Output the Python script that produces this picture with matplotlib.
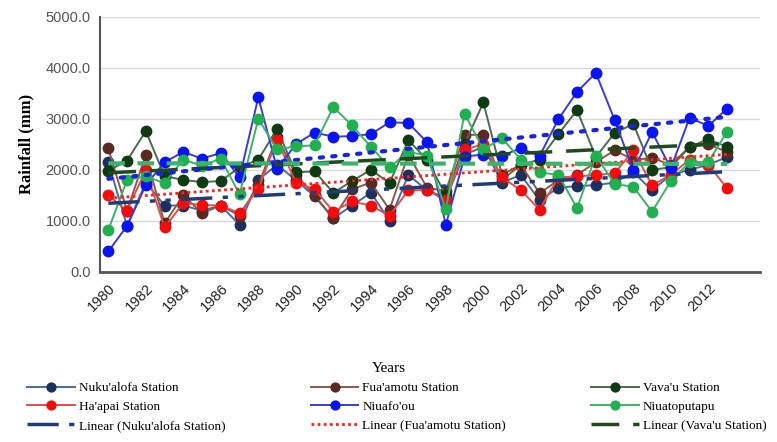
import matplotlib
matplotlib.use("Agg")
import matplotlib.pyplot as plt
import numpy as np

years = np.arange(1980, 2014)

nukualofa = [2150, 900, 1750, 1300, 1300, 1200, 1300, 920, 1800, 2100,
             1800, 1480, 1050, 1300, 1550, 1000, 1900, 1600, 1450, 2300,
             2450, 1750, 1900, 1400, 1650, 1680, 1700, 1750, 1950, 1600,
             1900, 2000, 2100, 2250]
fuaamotu = [2420, 1200, 2290, 950, 1500, 1150, 1300, 1100, 1700, 2650,
            1900, 1500, 1050, 1620, 1750, 1220, 2300, 1650, 1580, 2690,
            2680, 1800, 2100, 1540, 1800, 1900, 2150, 2380, 2200, 2230,
            2100, 2450, 2500, 2350]
vavau = [1980, 2180, 2760, 1880, 1800, 1760, 1780, 2050, 2200, 2800,
         1950, 1970, 1550, 1780, 2000, 1740, 2580, 2200, 1500, 2500,
         3320, 1900, 2100, 2200, 2700, 3170, 2250, 2720, 2900, 2000,
         2050, 2450, 2600, 2450]
haapai = [1500, 1200, 2000, 870, 1350, 1310, 1300, 1150, 1620, 2590,
          1750, 1620, 1180, 1380, 1300, 1100, 1600, 1600, 1400, 2400,
          2500, 1850, 1600, 1220, 1850, 1870, 1900, 1930, 2380, 1700,
          1900, 2200, 2100, 1640]
niuafoou = [400, 900, 1700, 2150, 2350, 2220, 2330, 1850, 3420, 2020,
            2500, 2730, 2650, 2660, 2700, 2930, 2920, 2540, 920, 2260,
            2300, 2280, 2420, 2270, 2990, 3530, 3900, 2980, 1990, 2740,
            2030, 3020, 2860, 3200]
niuatoputapu = [820, 1800, 1870, 1740, 2200, 2080, 2220, 1520, 3000, 2400,
                2460, 2480, 3230, 2870, 2450, 2050, 2350, 2280, 1230, 3100,
                2400, 2620, 2200, 1950, 1900, 1250, 2280, 1720, 1670, 1180,
                1780, 2150, 2150, 2750]

# (label, values, line colour, marker colour)
stations = [
    ("Nuku'alofa Station", nukualofa, "#4a6aa0", "#1c2f5e"),
    ("Fua'amotu Station", fuaamotu, "#8a5a4c", "#5a2a22"),
    ("Vava'u Station", vavau, "#4d6b4d", "#0f3a12"),
    ("Ha'apai Station", haapai, "#e0504a", "#f20c0c"),
    ("Niuafo'ou", niuafoou, "#3a3ad8", "#0a14f0"),
    ("Niuatoputapu", niuatoputapu, "#3cb36a", "#20b050"),
]

fig = plt.figure(figsize=(7.77, 4.42), dpi=100)
ax = fig.add_axes([0.129, 0.385, 0.849, 0.577])

handles = {}
for label, vals, lc, mc in stations:
    (h,) = ax.plot(years, vals, color=lc, lw=1.4, marker="o", ms=7.5,
                   mfc=mc, mec=mc, label=label, zorder=3)
    handles[label] = h


def trend(vals):
    k, b = np.polyfit(years, vals, 1)
    return k * years + b


(t_nuku,) = ax.plot(years, trend(nukualofa), color="#1f3c7a", lw=2.5,
                    dashes=(9, 3, 1.5, 3, 1.5, 3),
                    label="Linear (Nuku'alofa Station)", zorder=4)
(t_fua,) = ax.plot(years, trend(fuaamotu), color="#ff2020", lw=2,
                   dashes=(1, 1.2), label="Linear (Fua'amotu Station)", zorder=4)
(t_vav,) = ax.plot(years, trend(vavau), color="#1e4a1e", lw=2.5,
                   dashes=(8, 4), label="Linear (Vava'u Station)", zorder=4)
ax.plot(years, trend(niuafoou), color="#1a22e0", lw=3, dashes=(0.8, 2.2),
        dash_capstyle="round", label="_nolegend_", zorder=4)
ax.plot(years, trend(niuatoputapu), color="#3cb36a", lw=3, dashes=(4, 3),
        label="_nolegend_", zorder=4)

ax.set_xlim(1979.57, 2014.75)
ax.set_ylim(0, 5000)
ax.set_yticks(np.arange(0, 5001, 1000))
ax.set_yticklabels([f"{v:.1f}" for v in np.arange(0, 5001, 1000)],
                   fontsize=10.5, family="Liberation Sans", color="#555555")
ax.set_xticks(years[::2])
ax.set_xticklabels([str(y) for y in years[::2]], rotation=45, ha="right",
                   rotation_mode="anchor", fontsize=10.5,
                   family="Liberation Sans", color="#222222")
ax.tick_params(length=0, pad=7)
ax.grid(axis="y", color="#d9d9d9", lw=1)
ax.set_axisbelow(True)
for s in ("top", "right"):
    ax.spines[s].set_visible(False)
ax.spines["left"].set_color("#555555")
ax.spines["left"].set_linewidth(1.5)
ax.spines["bottom"].set_color("#555555")
ax.spines["bottom"].set_linewidth(2)

ax.set_ylabel("Rainfall (mm)", family="Liberation Serif", fontweight="bold",
              fontsize=12, labelpad=8)
fig.text(0.5, 1 - 368 / 442, "Years", family="Liberation Serif",
         fontsize=11, ha="center", va="center")

cols = [
    (["Nuku'alofa Station", "Ha'apai Station"], t_nuku, 0.035),
    (["Fua'amotu Station", "Niuafo'ou"], t_fua, 0.4),
    (["Vava'u Station", "Niuatoputapu"], t_vav, 0.761),
]
for names, th, x0 in cols:
    hs = [handles[n] for n in names] + [th]
    fig.legend(hs, [h.get_label() for h in hs], loc="upper left",
               bbox_to_anchor=(x0, 1 - 382 / 442), frameon=False,
               prop={"family": "Liberation Serif", "size": 9.5},
               handlelength=3.6, handletextpad=0.3, labelspacing=0.5,
               borderpad=0, borderaxespad=0, markerscale=0.85)

fig.savefig("out.png", dpi=100)
